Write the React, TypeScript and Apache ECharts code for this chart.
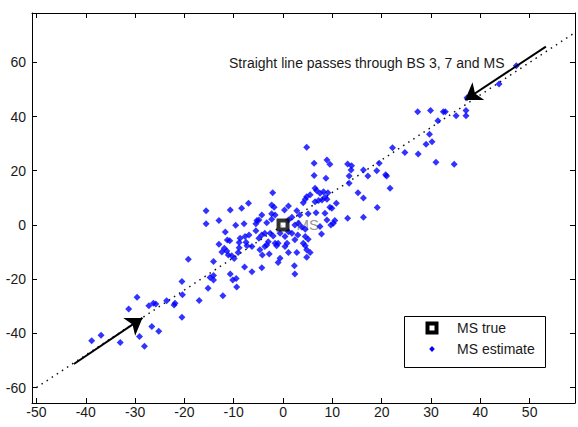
import React, { useEffect, useRef } from "react";
import * as echarts from "echarts";

// ---- axis ticks ----
const xTicks = [-50, -40, -30, -20, -10, 0, 10, 20, 30, 40, 50];
const yTicks = [-60, -40, -20, 0, 20, 40, 60];
const X_MIN = -50.9;
const X_MAX = 59.2;
const Y_MIN = -65.7;
const Y_MAX = 78.2;

// ---- MS estimates (x, y) ----
const estimateX = [
  -20.5, -20.4, -29.6, -27.2, -26.3, -25.8, -23.6, -21.9, -22.1, -31.3, -20.5, -26.6, -25.2, -36.9, -38.8, -33.0, -29.1, -28.1,
  -7.0, -8.4, -10.7, -15.6, -13.0, -15.6, -9.6, -7.9, -5.3, -5.5, -11.7, -5.5, -6.9, -7.7, -8.7, -11.3, -10.8, -13.0, -8.9, -7.5,
  -11.9, -11.4, -12.4, -8.9, -7.3, -6.3, -11.1, -10.4, -9.9, -9.1, -19.2, -14.1, -7.8, -6.3, -14.1, -14.8, -14.1, -10.7, -10.2, -9.5,
  -15.2, -9.4, -12.2, -17.0,
  -2.3, -1.8, 1.1, 4.1, 6.5, 7.2, 9.5, 10.8, 0.3, 2.8, 3.4, 5.1, 6.7, 8.5, 9.9, 13.1, -2.3, -1.6, -4.3, -4.9, -3.3, -2.3, 1.1, 1.8,
  2.4, 3.1, 8.9, 10.5, 10.2, 9.7, 7.5, 3.8, 4.5, 1.1, 1.8, -0.6, 0.4, 3.0, 7.8, 4.5, 5.1, -2.6, -2.0, -3.7, -4.3, -4.9, -3.0, -3.3,
  -3.7, -1.6, -1.0, -1.3, 0.8, 0.4, 2.4, 4.1, 4.5, 4.8, 5.5, -4.7, -2.8, -4.2, 1.1, 2.8, -0.6, -1.0, 4.8, -4.3, 2.3, 2.4,
  4.8, 6.3, 8.9, 9.5, 13.1, 13.9, 13.8, 6.3, 8.7, 13.4, 13.4, -2.1, 6.5, 6.8, 7.5, 8.2, 5.5, 4.8, 4.5, 9.1, 8.5, 8.9, 7.9,
  27.3, 29.9, 32.5, 32.9, 35.1, 37.1, 37.1, 31.4, 29.7, 30.2, 29.0, 22.2, 24.7, 27.4, 31.0, 34.7, 16.3, 17.2, 19.0, 19.5, 20.8, 21.0,
  21.7, 47.3, 43.8, 37.3, 15.2, 16.3, 19.1, 16.3,
];
const estimateY = [
  -20.9, -25.8, -26.7, -29.8, -28.9, -29.2, -28.0, -28.9, -29.5, -31.0, -34.1, -37.5, -39.2, -40.7, -42.7, -43.4, -41.2, -44.8,
  8.0, 6.2, 5.5, 5.2, 1.6, 0.4, -0.1, 0.4, 1.6, 0.4, -2.6, -2.1, -3.7, -4.3, -4.9, -5.6, -5.8, -7.1, -6.5, -6.4,
  -8.6, -9.6, -10.0, -8.4, -7.7, -8.0, -11.1, -11.4, -12.4, -10.2, -12.7, -13.5, -15.5, -17.3, -18.7, -19.4, -20.3, -18.1, -20.3, -19.8,
  -23.4, -22.9, -26.1, -27.9,
  7.4, 6.5, 7.0, 8.2, 8.6, 9.0, 6.5, 8.0, 5.5, 5.2, 3.7, 4.1, 4.5, 4.3, 6.2, 2.5, 4.1, 3.7, 3.7, 1.8, 0.8, 2.1, 1.8, 2.8,
  0.0, 0.6, 1.8, 1.6, 0.6, 0.0, -0.6, -0.8, -1.6, -2.5, -3.1, -3.1, -4.3, -3.7, -3.3, -4.3, -5.3, -3.1, -4.1, -3.1, -3.7, -4.9, -6.2, -7.4,
  -8.0, -6.8, -6.8, -7.7, -6.8, -8.0, -5.5, -6.8, -7.7, -9.2, -10.2, -9.2, -10.7, -11.1, -10.2, -10.2, -12.3, -13.9, -11.9, -15.8, -15.1, -18.1,
  28.7, 22.8, 24.0, 22.4, 22.5, 21.8, 20.3, 18.2, 17.2, 18.1, 15.4, 11.9, 13.5, 12.7, 11.7, 12.2, 11.1, 10.4, 9.5, 11.9, 10.2, 9.5, 9.2,
  41.8, 42.2, 41.8, 41.8, 40.3, 42.2, 40.3, 38.4, 33.5, 30.7, 29.8, 28.5, 26.7, 26.2, 23.1, 22.4, 20.3, 18.1, 20.0, 22.8, 18.5, 18.1,
  13.5, 58.7, 52.0, 46.9, 11.9, 9.9, 6.4, 2.8,
];

// ---- MS true position ----
const trueX = [0];
const trueY = [0];

// ---- straight line through BS 3, 7 and MS ----
const lineX = [-50, 59.2];
const lineY = [-60, 71.0];

// ---- arrows (tail -> head tip) ----
const arrowTailX = [53.3, -42.4];
const arrowTailY = [65.8, -51.3];
const arrowHeadX = [36.9, -28.5];
const arrowHeadY = [46.1, -34.3];

const ANNOTATION = "Straight line passes through BS 3, 7 and MS";
const LABEL_MS = "MS";
const LEGEND_TRUE = "MS true";
const LEGEND_EST = "MS estimate";

const FONT = "'Liberation Sans', Arial, Helvetica, sans-serif";
const TEXT_COLOR = "#1a1a1a";

export default function App() {
  const ref = useRef<HTMLDivElement>(null);

  useEffect(() => {
    if (!ref.current) return;
    const chart = echarts.init(ref.current, null, { renderer: "svg" });

    const axisCommonX = {
      type: "value" as const,
      min: X_MIN,
      max: X_MAX,
      splitLine: { show: false },
      axisLine: { show: true, onZero: false, lineStyle: { color: "#000", width: 1 } },
      axisTick: { show: true, inside: true, length: 5, customValues: xTicks, lineStyle: { color: "#000", width: 1 } },
    };
    const axisCommonY = {
      type: "value" as const,
      min: Y_MIN,
      max: Y_MAX,
      splitLine: { show: false },
      axisLine: { show: true, onZero: false, lineStyle: { color: "#000", width: 1 } },
      axisTick: { show: true, inside: true, length: 5, customValues: yTicks, lineStyle: { color: "#000", width: 1 } },
    };

    const estimateData = estimateX.map((x, i) => [x, estimateY[i]]);
    const trueData = trueX.map((x, i) => [x, trueY[i]]);
    const lineData = lineX.map((x, i) => [x, lineY[i]]);
    const arrowData = arrowTailX.map((x, i) => [
      { coord: [x, arrowTailY[i]] },
      { coord: [arrowHeadX[i], arrowHeadY[i]] },
    ]);

    const option: any = {
      animation: false,
      backgroundColor: "#fff",
      grid: { left: 32, right: 3, top: 13, bottom: 24, containLabel: false, outerBoundsMode: "none" },
      xAxis: [
        {
          ...axisCommonX,
          position: "bottom",
          axisLabel: { customValues: xTicks, margin: 2, color: TEXT_COLOR, fontSize: 14, fontFamily: FONT },
        },
        { ...axisCommonX, position: "top", axisLabel: { show: false } },
      ],
      yAxis: [
        {
          ...axisCommonY,
          position: "left",
          axisLabel: { customValues: yTicks, margin: 6, color: TEXT_COLOR, fontSize: 14, fontFamily: FONT },
        },
        { ...axisCommonY, position: "right", axisLabel: { show: false } },
      ],
      series: [
        {
          type: "line",
          name: "line",
          data: lineData,
          symbol: "none",
          silent: true,
          z: 1,
          lineStyle: { color: "#111", width: 1.5, type: [1.5, 4.6] },
        },
        {
          type: "scatter",
          name: "ms-label",
          data: trueData,
          symbolSize: 1,
          silent: true,
          z: 1,
          itemStyle: { color: "rgba(0,0,0,0)" },
          label: {
            show: true,
            position: "right",
            distance: 13,
            formatter: LABEL_MS,
            color: "#7a7a7a",
            fontSize: 15,
            fontFamily: FONT,
          },
        },
        {
          type: "scatter",
          name: LEGEND_EST,
          data: estimateData,
          symbol: "diamond",
          symbolSize: 7,
          silent: true,
          z: 2,
          itemStyle: { color: "#0000ff" },
        },
        {
          type: "scatter",
          name: LEGEND_TRUE,
          data: trueData,
          symbol: "rect",
          symbolSize: 9,
          silent: true,
          z: 3,
          itemStyle: { color: "#ffffff", borderColor: "#000", borderWidth: 4 },
        },
        {
          type: "line",
          name: "arrows",
          data: [],
          silent: true,
          z: 4,
          markLine: {
            silent: true,
            animation: false,
            symbol: ["none", "arrow"],
            symbolSize: 16,
            label: { show: false },
            lineStyle: { color: "#000", width: 2, type: "solid" },
            emphasis: { disabled: true },
            data: arrowData,
          },
        },
      ],
      graphic: [
        {
          type: "text",
          x: 229,
          y: 62.5,
          z: 10,
          silent: true,
          style: {
            text: ANNOTATION,
            fontSize: 14,
            fontFamily: FONT,
            fill: TEXT_COLOR,
            verticalAlign: "middle",
          },
        },
        {
          type: "group",
          z: 10,
          silent: true,
          children: [
            {
              type: "rect",
              shape: { x: 404.5, y: 316.5, width: 141, height: 51 },
              style: { fill: "#fff", stroke: "#000", lineWidth: 1 },
            },
            {
              type: "rect",
              shape: { x: 427.5, y: 323.5, width: 9, height: 9 },
              style: { fill: "#fff", stroke: "#000", lineWidth: 4 },
            },
            {
              type: "text",
              x: 457,
              y: 328,
              style: { text: LEGEND_TRUE, fontSize: 14, fontFamily: FONT, fill: TEXT_COLOR, verticalAlign: "middle" },
            },
            {
              type: "polygon",
              shape: { points: [[432, 346], [434.8, 349], [432, 352], [429.2, 349]] },
              style: { fill: "#0000ff" },
            },
            {
              type: "text",
              x: 457,
              y: 349,
              style: { text: LEGEND_EST, fontSize: 14, fontFamily: FONT, fill: TEXT_COLOR, verticalAlign: "middle" },
            },
          ],
        },
      ],
    };

    chart.setOption(option);
    return () => chart.dispose();
  }, []);

  return (
    <div
      ref={ref}
      style={{ position: "fixed", left: 0, top: 0, width: 578, height: 427, background: "#fff" }}
    />
  );
}
